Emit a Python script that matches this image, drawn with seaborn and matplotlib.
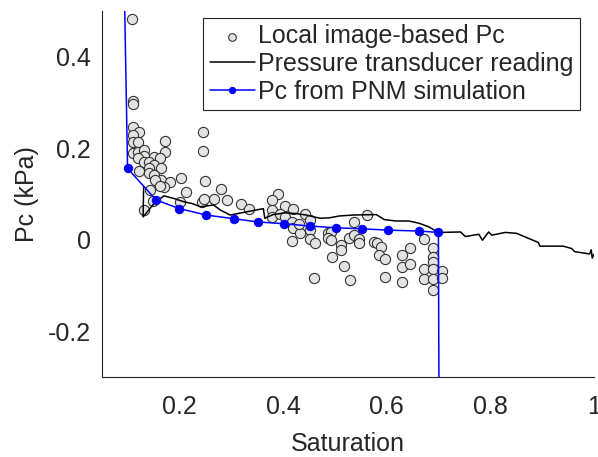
import numpy as np
import pandas as pd
import matplotlib
matplotlib.use("Agg")
import matplotlib.pyplot as plt
import seaborn as sns

# Local image-based Pc (scatter)
sat_img = [0.108, 0.110, 0.110, 0.110, 0.123, 0.110, 0.110, 0.121, 0.172, 0.245,
           0.245, 0.110, 0.121, 0.132, 0.172, 0.131, 0.121, 0.132, 0.151, 0.163,
           0.142, 0.151, 0.123, 0.142, 0.164, 0.142, 0.151, 0.164, 0.153, 0.182,
           0.204, 0.170, 0.163, 0.249, 0.281, 0.144, 0.212, 0.201, 0.131, 0.244,
           0.266, 0.292, 0.247, 0.319, 0.335, 0.391, 0.378, 0.378, 0.378, 0.404,
           0.394, 0.420, 0.404, 0.417, 0.420, 0.433, 0.442, 0.452, 0.452, 0.417,
           0.452, 0.461, 0.487, 0.493, 0.487, 0.493, 0.512, 0.512, 0.494, 0.517,
           0.460, 0.530, 0.528, 0.538, 0.538, 0.430, 0.562, 0.546, 0.546, 0.575,
           0.582, 0.590, 0.586, 0.597, 0.629, 0.645, 0.629, 0.645, 0.597, 0.629,
           0.672, 0.689, 0.689, 0.689, 0.672, 0.672, 0.689, 0.689, 0.707, 0.707,
           0.689, 0.149]
pc_img = [0.482, 0.304, 0.297, 0.247, 0.235, 0.229, 0.213, 0.214, 0.216, 0.235,
          0.195, 0.189, 0.192, 0.196, 0.191, 0.184, 0.178, 0.170, 0.181, 0.178,
          0.170, 0.163, 0.150, 0.156, 0.156, 0.145, 0.141, 0.130, 0.130, 0.127,
          0.136, 0.116, 0.118, 0.128, 0.112, 0.109, 0.105, 0.083, 0.065, 0.083,
          0.090, 0.087, 0.090, 0.079, 0.067, 0.101, 0.087, 0.065, 0.050, 0.074,
          0.057, 0.067, 0.050, 0.039, 0.025, 0.014, 0.057, 0.043, 0.021, -0.003,
          0.002, -0.008, 0.014, 0.017, 0.003, -0.001, -0.012, -0.023, -0.037, -0.057,
          -0.083, -0.088, 0.003, 0.010, 0.038, 0.034, 0.054, 0.002, -0.008, -0.004,
          -0.008, -0.015, -0.033, -0.041, -0.033, -0.017, -0.059, -0.053, -0.082, -0.092,
          0.002, -0.017, -0.037, -0.048, -0.063, -0.085, -0.063, -0.085, -0.068, -0.083,
          -0.110, 0.085]

# Pressure transducer reading
sat_pt = [0.131, 0.130, 0.151, 0.170, 0.190, 0.209, 0.225, 0.241, 0.266, 0.279,
          0.298, 0.330, 0.362, 0.365, 0.381, 0.394, 0.404, 0.426, 0.445, 0.471,
          0.490, 0.509, 0.535, 0.580, 0.596, 0.618, 0.643, 0.663, 0.682, 0.695,
          0.701, 0.743, 0.752, 0.778, 0.785, 0.797, 0.803, 0.829, 0.851, 0.874,
          0.893, 0.896, 0.941, 0.957, 0.963, 0.992, 0.995, 0.997, 1.000]
pc_pt = [0.116, 0.050, 0.079, 0.096, 0.090, 0.083, 0.079, 0.072, 0.076, 0.065,
         0.054, 0.061, 0.068, 0.047, 0.055, 0.057, 0.059, 0.057, 0.054, 0.047,
         0.048, 0.052, 0.054, 0.055, 0.044, 0.041, 0.041, 0.036, 0.028, 0.019,
         0.016, 0.017, 0.007, 0.012, -0.001, 0.017, 0.010, 0.016, 0.014, 0.003,
         -0.006, -0.014, -0.014, -0.019, -0.026, -0.031, -0.022, -0.040, -0.032]

# Pc from PNM simulation
sat_pnm = [0.093, 0.100, 0.155, 0.200, 0.252, 0.305, 0.351, 0.402, 0.452,
           0.503, 0.552, 0.603, 0.663, 0.700, 0.702]
pc_pnm = [0.60, 0.156, 0.087, 0.068, 0.054, 0.046, 0.039, 0.035, 0.030,
          0.026, 0.024, 0.021, 0.019, 0.016, -0.60]

df_img = pd.DataFrame({"sat": sat_img, "pc": pc_img})
df_pt = pd.DataFrame({"sat": sat_pt, "pc": pc_pt})
df_pnm = pd.DataFrame({"sat": sat_pnm, "pc": pc_pnm})

sns.set_style("white")
plt.rcParams['font.family'] = ['Liberation Sans', 'DejaVu Sans']
plt.rcParams['axes.unicode_minus'] = False

fig = plt.figure(figsize=(5.98, 4.57), dpi=100)
ax = fig.add_axes([0.170, 0.175, 0.823, 0.801])

sns.scatterplot(data=df_img, x="sat", y="pc", ax=ax, s=54, color="#e3e3e3",
                edgecolor="#333333", linewidth=0.8, label="Local image-based Pc", zorder=2)
sns.lineplot(data=df_pt, x="sat", y="pc", ax=ax, sort=False, estimator=None,
             color="black", linewidth=1.1, label="Pressure transducer reading", zorder=3)
sns.lineplot(data=df_pnm, x="sat", y="pc", ax=ax, sort=False, estimator=None,
             color="blue", linewidth=1.1, marker="o", markersize=6,
             markeredgecolor="blue", label="Pc from PNM simulation", zorder=4)

ax.set_xlim(0.05, 1)
ax.set_ylim(-0.3, 0.5)
ax.set_xticks([0.2, 0.4, 0.6, 0.8, 1])
ax.set_xticklabels(["0.2", "0.4", "0.6", "0.8", "1"])
ax.set_yticks([-0.2, 0, 0.2, 0.4])
ax.set_yticklabels(["-0.2", "0", "0.2", "0.4"])
ax.tick_params(direction="in", length=4, width=0.7, colors="#262626",
               labelsize=18)
ax.tick_params(axis="x", pad=13)
ax.tick_params(axis="y", pad=8)
for side in ["top", "right"]:
    ax.spines[side].set_visible(False)
for side in ["left", "bottom"]:
    ax.spines[side].set_color("#262626")
    ax.spines[side].set_linewidth(0.8)

ax.set_xlabel("Saturation", fontsize=18, color="#262626", labelpad=9)
ax.set_ylabel("Pc (kPa)", fontsize=18, color="#262626", labelpad=6)

leg = ax.legend(loc="upper right", bbox_to_anchor=(0.972, 0.981), fontsize=18,
                frameon=True, fancybox=False, framealpha=1, edgecolor="#262626",
                borderaxespad=0, borderpad=0.25, handlelength=1.8,
                handletextpad=0.15, labelspacing=0.15, markerscale=0.75)
leg.get_frame().set_linewidth(0.8)

fig.savefig("out.png", dpi=100)
